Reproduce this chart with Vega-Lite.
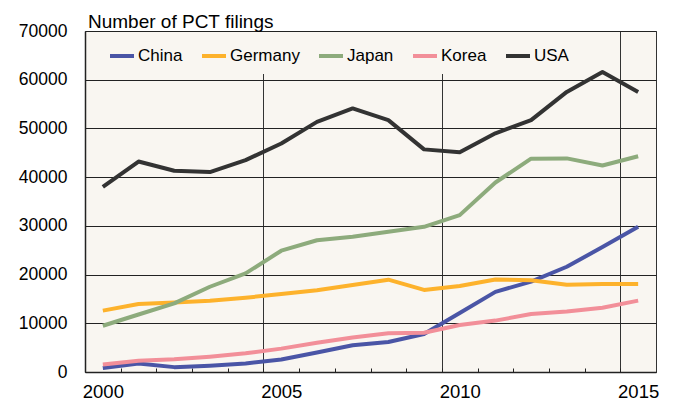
{
  "$schema": "https://vega.github.io/schema/vega-lite/v6.json",
  "width": 571,
  "height": 341,
  "autosize": {"type": "none"},
  "padding": {"left": 85, "top": 31, "right": 17, "bottom": 29},
  "background": "#ffffff",
  "config": {
    "font": "Liberation Sans",
    "view": {"fill": "#f9f6f1", "stroke": "#333333", "strokeWidth": 1}
  },
  "data": {
    "values": [
      {"year": 2000, "country": "China", "value": 800},
      {"year": 2001, "country": "China", "value": 1750},
      {"year": 2002, "country": "China", "value": 1000},
      {"year": 2003, "country": "China", "value": 1300},
      {"year": 2004, "country": "China", "value": 1750},
      {"year": 2005, "country": "China", "value": 2550},
      {"year": 2006, "country": "China", "value": 4000},
      {"year": 2007, "country": "China", "value": 5500},
      {"year": 2008, "country": "China", "value": 6150},
      {"year": 2009, "country": "China", "value": 7800},
      {"year": 2010, "country": "China", "value": 12100},
      {"year": 2011, "country": "China", "value": 16450},
      {"year": 2012, "country": "China", "value": 18550},
      {"year": 2013, "country": "China", "value": 21600},
      {"year": 2014, "country": "China", "value": 25650},
      {"year": 2015, "country": "China", "value": 29800},
      {"year": 2000, "country": "Germany", "value": 12600},
      {"year": 2001, "country": "Germany", "value": 13950},
      {"year": 2002, "country": "Germany", "value": 14250},
      {"year": 2003, "country": "Germany", "value": 14650},
      {"year": 2004, "country": "Germany", "value": 15250},
      {"year": 2005, "country": "Germany", "value": 16000},
      {"year": 2006, "country": "Germany", "value": 16800},
      {"year": 2007, "country": "Germany", "value": 17850},
      {"year": 2008, "country": "Germany", "value": 18950},
      {"year": 2009, "country": "Germany", "value": 16850},
      {"year": 2010, "country": "Germany", "value": 17650},
      {"year": 2011, "country": "Germany", "value": 19000},
      {"year": 2012, "country": "Germany", "value": 18850},
      {"year": 2013, "country": "Germany", "value": 17900},
      {"year": 2014, "country": "Germany", "value": 18050},
      {"year": 2015, "country": "Germany", "value": 18050},
      {"year": 2000, "country": "Japan", "value": 9500},
      {"year": 2001, "country": "Japan", "value": 11800},
      {"year": 2002, "country": "Japan", "value": 14100},
      {"year": 2003, "country": "Japan", "value": 17500},
      {"year": 2004, "country": "Japan", "value": 20250},
      {"year": 2005, "country": "Japan", "value": 24900},
      {"year": 2006, "country": "Japan", "value": 27050},
      {"year": 2007, "country": "Japan", "value": 27750},
      {"year": 2008, "country": "Japan", "value": 28800},
      {"year": 2009, "country": "Japan", "value": 29800},
      {"year": 2010, "country": "Japan", "value": 32200},
      {"year": 2011, "country": "Japan", "value": 38900},
      {"year": 2012, "country": "Japan", "value": 43800},
      {"year": 2013, "country": "Japan", "value": 43850},
      {"year": 2014, "country": "Japan", "value": 42400},
      {"year": 2015, "country": "Japan", "value": 44300},
      {"year": 2000, "country": "Korea", "value": 1550},
      {"year": 2001, "country": "Korea", "value": 2300},
      {"year": 2002, "country": "Korea", "value": 2600},
      {"year": 2003, "country": "Korea", "value": 3150},
      {"year": 2004, "country": "Korea", "value": 3850},
      {"year": 2005, "country": "Korea", "value": 4800},
      {"year": 2006, "country": "Korea", "value": 6000},
      {"year": 2007, "country": "Korea", "value": 7100},
      {"year": 2008, "country": "Korea", "value": 7950},
      {"year": 2009, "country": "Korea", "value": 8050},
      {"year": 2010, "country": "Korea", "value": 9650},
      {"year": 2011, "country": "Korea", "value": 10550},
      {"year": 2012, "country": "Korea", "value": 11900},
      {"year": 2013, "country": "Korea", "value": 12400},
      {"year": 2014, "country": "Korea", "value": 13200},
      {"year": 2015, "country": "Korea", "value": 14650},
      {"year": 2000, "country": "USA", "value": 38000},
      {"year": 2001, "country": "USA", "value": 43200},
      {"year": 2002, "country": "USA", "value": 41300},
      {"year": 2003, "country": "USA", "value": 41050},
      {"year": 2004, "country": "USA", "value": 43500},
      {"year": 2005, "country": "USA", "value": 46900},
      {"year": 2006, "country": "USA", "value": 51350},
      {"year": 2007, "country": "USA", "value": 54100},
      {"year": 2008, "country": "USA", "value": 51700},
      {"year": 2009, "country": "USA", "value": 45700},
      {"year": 2010, "country": "USA", "value": 45100},
      {"year": 2011, "country": "USA", "value": 49000},
      {"year": 2012, "country": "USA", "value": 51700},
      {"year": 2013, "country": "USA", "value": 57500},
      {"year": 2014, "country": "USA", "value": 61600},
      {"year": 2015, "country": "USA", "value": 57500}
    ]
  },
  "mark": {"type": "line", "strokeJoin": "round"},
  "encoding": {
    "x": {
      "field": "year",
      "type": "quantitative",
      "scale": {"domain": [1999.5, 2015.5], "nice": false, "zero": false},
      "axis": {
        "title": null,
        "values": [2000, 2000.5, 2001.5, 2002.5, 2003.5, 2004.5, 2005, 2005.5, 2006.5, 2007.5, 2008.5, 2009.5, 2010, 2010.5, 2011.5, 2012.5, 2013.5, 2014.5, 2015],
        "labelExpr": "datum.value % 1 === 0 ? '' + datum.value : ''",
        "labelOverlap": false,
        "labelFontSize": 18.5,
        "labelColor": "#000000",
        "labelPadding": 14,
        "labelFlush": false,
        "domainColor": "#222222",
        "domainWidth": 1.5,
        "ticks": true,
        "tickSize": -4,
        "tickColor": "#222222",
        "tickOpacity": {"condition": {"test": "datum.value % 1 !== 0", "value": 1}, "value": 0},
        "grid": true,
        "gridColor": "#333333",
        "gridWidth": 1,
        "gridOpacity": {"condition": {"test": "datum.value === 2004.5 || datum.value === 2009.5 || datum.value === 2014.5", "value": 1}, "value": 0}
      }
    },
    "y": {
      "field": "value",
      "type": "quantitative",
      "scale": {"domain": [0, 70000], "nice": false},
      "axis": {
        "title": "Number of PCT filings",
        "titleAngle": 0,
        "titleX": 2.5,
        "titleY": -4,
        "titleAlign": "left",
        "titleBaseline": "alphabetic",
        "titleFontSize": 19,
        "titleFontWeight": "normal",
        "titleColor": "#000000",
        "values": [0, 10000, 20000, 30000, 40000, 50000, 60000, 70000],
        "format": "d",
        "labelFontSize": 17.5,
        "labelColor": "#000000",
        "labelPadding": 18,
        "ticks": false,
        "domainColor": "#222222",
        "domainWidth": 1.5,
        "grid": true,
        "gridColor": "#222222",
        "gridWidth": 1
      }
    },
    "color": {
      "field": "country",
      "type": "nominal",
      "scale": {
        "domain": ["China", "Germany", "Japan", "Korea", "USA"],
        "range": ["#4a55a6", "#fdb22c", "#8dab7c", "#f28f99", "#333333"]
      },
      "legend": {
        "title": null,
        "orient": "none",
        "legendX": 13,
        "legendY": 1,
        "direction": "horizontal",
        "fillColor": "#f9f6f1",
        "padding": 10,
        "symbolType": "stroke",
        "symbolSize": 576,
        "labelFontSize": 17,
        "labelColor": "#000000",
        "labelOffset": 2,
        "columnPadding": 11
      }
    },
    "strokeWidth": {
      "field": "country",
      "type": "nominal",
      "scale": {
        "domain": ["China", "Germany", "Japan", "Korea", "USA"],
        "range": [4, 4, 4, 4, 2.2]
      },
      "legend": {"title": null}
    }
  }
}
